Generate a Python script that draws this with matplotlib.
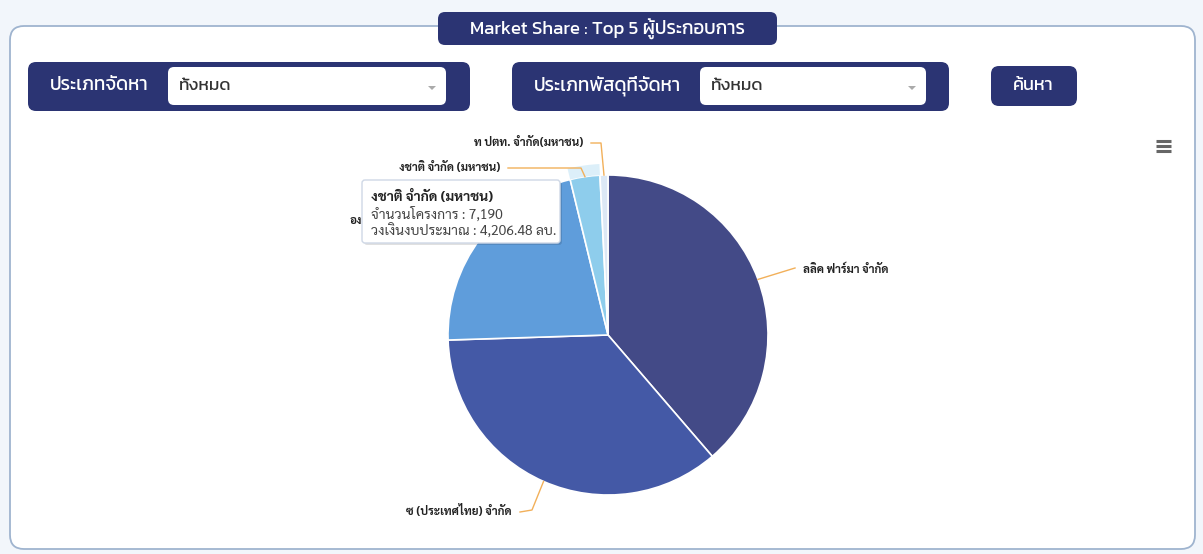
import matplotlib
matplotlib.use("Agg")
import numpy as np
import matplotlib.pyplot as plt
from matplotlib import font_manager
from matplotlib.font_manager import FontProperties
from matplotlib.patches import FancyBboxPatch, Wedge, Polygon


def pick_font(names):
    for n in names:
        try:
            font_manager.findfont(FontProperties(family=n), fallback_to_default=False)
            return n
        except Exception:
            continue
    return "DejaVu Sans"


UI_FONT = pick_font(["Kanit", "Prompt", "Mitr", "Bai Jamjuree", "Chakra Petch"])
LBL_FONT = pick_font(["Sarabun", "Noto Sans Thai", "Noto Sans Thai Looped", "Tahoma", "Athiti", "Bai Jamjuree"])

# data
companies = ["ลลิค ฟาร์มา จำกัด", "ซ (ประเทศไทย) จำกัด", "องค์การเภสัชกรรม",
             "งชาติ จำกัด (มหาชน)", "ท ปตท. จำกัด(มหาชน)"]
shares = [38.7, 35.8, 21.7, 3.0, 0.8]
colors = ["#434a87", "#4459a6", "#5f9ddb", "#8ecdec", "#dce8f5"]
hover_idx = 3
tooltip_projects = "7,190"
tooltip_budget = "4,206.48"

W, H = 1203, 554
fig = plt.figure(figsize=(W / 100, H / 100), dpi=100)

# background / UI layer
bg = fig.add_axes([0, 0, 1, 1], zorder=0)
bg.set_xlim(0, W)
bg.set_ylim(H, 0)
bg.axis("off")
bg.add_patch(plt.Rectangle((0, 0), W, H, color="#f2f6fb"))
bg.add_patch(FancyBboxPatch((10, 26), 1185, 523, boxstyle="round,pad=0,rounding_size=14",
                            fc="white", ec="#9fb4cf", lw=1.3))

NAVY = "#2b3473"
UI = [UI_FONT, "DejaVu Sans"]
LB = [LBL_FONT, "DejaVu Sans"]


def rbox(x, y, w, h, r, fc, ec="none", z=1, lw=0):
    bg.add_patch(FancyBboxPatch((x, y), w, h, boxstyle=f"round,pad=0,rounding_size={r}",
                                fc=fc, ec=ec, lw=lw, zorder=z))


# title
rbox(438, 12, 339, 33, 7, NAVY)
bg.text(607, 29, "Market Share : Top 5 ผู้ประกอบการ", color="white", fontsize=13.5,
        family=UI, ha="center", va="center", zorder=3)

# filters
filters = [("ประเภทจัดหา", 28, 442, 168, 278), ("ประเภทพัสดุที่จัดหา", 512, 437, 700, 226)]
for label, x0, w0, ix, iw in filters:
    rbox(x0, 62, w0, 49, 8, NAVY)
    bg.text(x0 + 22, 86, label, color="white", fontsize=13.5, family=UI,
            ha="left", va="center", zorder=3)
    rbox(ix, 67, iw, 38, 6, "white", z=2)
    bg.text(ix + 11, 86, "ทั้งหมด", color="#333333", fontsize=12.5, family=UI,
            ha="left", va="center", zorder=3)
    ax_ = ix + iw - 14
    bg.add_patch(Polygon([[ax_ - 4, 86], [ax_ + 4, 86], [ax_, 90]], closed=True, fc="#aaaaaa",
                         ec="none", zorder=3))

rbox(991, 66, 86, 40, 8, NAVY)
bg.text(1033, 86, "ค้นหา", color="white", fontsize=13, family=UI,
        ha="center", va="center", zorder=3)

# hamburger menu
for yy in (141, 146, 151):
    bg.plot([1156, 1171], [yy, yy], color="#666666", lw=2.2, solid_capstyle="butt")

# pie
CX, CY, R = 608, 335, 160
pie_ax = fig.add_axes([(CX - 1.1 * R) / W, (H - CY - 1.1 * R) / H, 2.2 * R / W, 2.2 * R / H], zorder=1)
wedges, _ = pie_ax.pie(shares, colors=colors, startangle=90, counterclock=False, radius=1,
                       wedgeprops=dict(edgecolor="white", linewidth=1.2))
pie_ax.set_xlim(-1.1, 1.1)
pie_ax.set_ylim(-1.1, 1.1)
pie_ax.set_position([(CX - 1.1 * R) / W, (H - CY - 1.1 * R) / H, 2.2 * R / W, 2.2 * R / H])
pie_ax.axis("off")

# hover halo on hovered slice
hw = wedges[hover_idx]
pie_ax.add_patch(Wedge((0, 0), 1.07, hw.theta1, hw.theta2, width=0.07,
                       fc=colors[hover_idx], alpha=0.3, ec="none"))

# overlay: data labels, connectors, tooltip
ov = fig.add_axes([0, 0, 1, 1], zorder=2)
ov.set_xlim(0, W)
ov.set_ylim(H, 0)
ov.axis("off")
ov.patch.set_alpha(0)

# label layout: (text x, text y, ha, connector points from the slice edge to the text)
label_layout = [
    (803, 270, "left", [(795, 268)]),
    (512, 512, "right", [(532, 510), (520, 512)]),
    (350, 221, "left", [(455, 221)]),
    (500, 168, "right", [(581, 168), (508, 168)]),
    (583, 143, "right", [(601, 143), (591, 143)]),
]

TX, TY, TW, TH = 362, 180, 198, 63

for i, (w, name, (tx, ty, ha, pts)) in enumerate(zip(wedges, companies, label_layout)):
    th = np.deg2rad((w.theta1 + w.theta2) / 2)
    ex, ey = CX + R * np.cos(th), CY - R * np.sin(th)
    xs = [ex] + [p[0] for p in pts]
    ys = [ey] + [p[1] for p in pts]
    ov.plot(xs, ys, color="#f2b05a", lw=1, zorder=1)
    # the third label sits under the tooltip, only its first letters show
    shown = name[:2] if i == 2 else name
    ov.text(tx, ty, shown, fontsize=8.3, fontweight="bold", color="#222222",
            family=LB, ha=ha, va="center", zorder=2)

# tooltip
ov.add_patch(FancyBboxPatch((TX + 2, TY + 2), TW, TH, boxstyle="round,pad=0,rounding_size=3",
                            fc="#000000", alpha=0.12, ec="none", zorder=4))
ov.add_patch(FancyBboxPatch((TX, TY), TW, TH, boxstyle="round,pad=0,rounding_size=3",
                            fc="white", ec="#cfd8e6", lw=1, zorder=5))
ov.text(TX + 9, TY + 17, companies[hover_idx], fontsize=10, fontweight="bold", color="#222222",
        family=LB, ha="left", va="center", zorder=6)
ov.text(TX + 9, TY + 34, "จำนวนโครงการ : " + tooltip_projects, fontsize=10, color="#444444",
        family=LB, ha="left", va="center", zorder=6)
ov.text(TX + 9, TY + 51, "วงเงินงบประมาณ : " + tooltip_budget + " ลบ.", fontsize=10, color="#444444",
        family=LB, ha="left", va="center", zorder=6)

fig.savefig("out.png", dpi=100)
